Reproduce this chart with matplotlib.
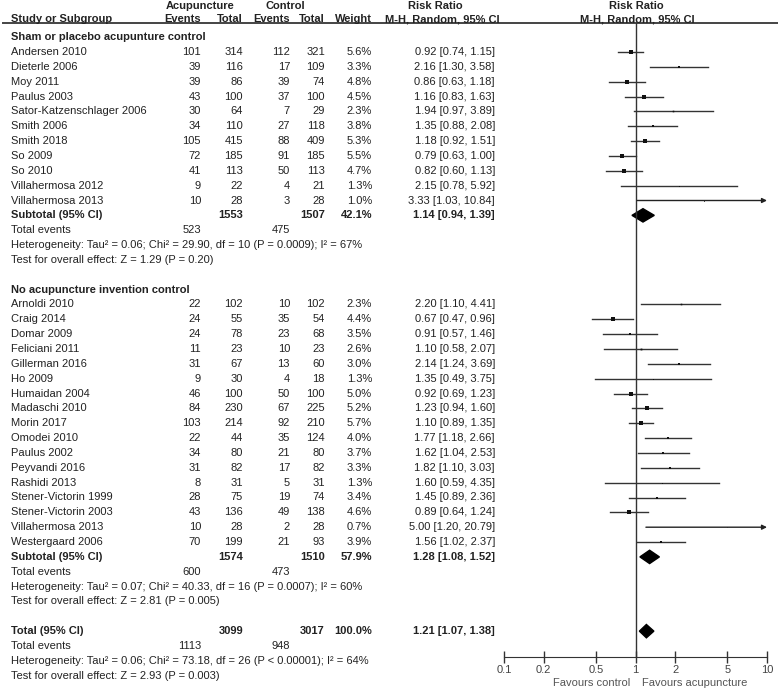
import matplotlib
matplotlib.use("Agg")
import matplotlib.pyplot as plt
from matplotlib.patches import Polygon

plt.rcParams['font.family'] = ['Liberation Sans', 'DejaVu Sans']

# --- data: sham or placebo acupuncture control ---
names1 = ["Andersen 2010", "Dieterle 2006", "Moy 2011", "Paulus 2003", "Sator-Katzenschlager 2006",
          "Smith 2006", "Smith 2018", "So 2009", "So 2010", "Villahermosa 2012", "Villahermosa 2013"]
ae1 = [101, 39, 39, 43, 30, 34, 105, 72, 41, 9, 10]
at1 = [314, 116, 86, 100, 64, 110, 415, 185, 113, 22, 28]
ce1 = [112, 17, 39, 37, 7, 27, 88, 91, 50, 4, 3]
ct1 = [321, 109, 74, 100, 29, 118, 409, 185, 113, 21, 28]
w1 = [5.6, 3.3, 4.8, 4.5, 2.3, 3.8, 5.3, 5.5, 4.7, 1.3, 1.0]
rr1 = [0.92, 2.16, 0.86, 1.16, 1.94, 1.35, 1.18, 0.79, 0.82, 2.15, 3.33]
lo1 = [0.74, 1.30, 0.63, 0.83, 0.97, 0.88, 0.92, 0.63, 0.60, 0.78, 1.03]
hi1 = [1.15, 3.58, 1.18, 1.63, 3.89, 2.08, 1.51, 1.00, 1.13, 5.92, 10.84]

# --- data: no acupuncture control ---
names2 = ["Arnoldi 2010", "Craig 2014", "Domar 2009", "Feliciani 2011", "Gillerman 2016", "Ho 2009",
          "Humaidan 2004", "Madaschi 2010", "Morin 2017", "Omodei 2010", "Paulus 2002", "Peyvandi 2016",
          "Rashidi 2013", "Stener-Victorin 1999", "Stener-Victorin 2003", "Villahermosa 2013",
          "Westergaard 2006"]
ae2 = [22, 24, 24, 11, 31, 9, 46, 84, 103, 22, 34, 31, 8, 28, 43, 10, 70]
at2 = [102, 55, 78, 23, 67, 30, 100, 230, 214, 44, 80, 82, 31, 75, 136, 28, 199]
ce2 = [10, 35, 23, 10, 13, 4, 50, 67, 92, 35, 21, 17, 5, 19, 49, 2, 21]
ct2 = [102, 54, 68, 23, 60, 18, 100, 225, 210, 124, 80, 82, 31, 74, 138, 28, 93]
w2 = [2.3, 4.4, 3.5, 2.6, 3.0, 1.3, 5.0, 5.2, 5.7, 4.0, 3.7, 3.3, 1.3, 3.4, 4.6, 0.7, 3.9]
rr2 = [2.20, 0.67, 0.91, 1.10, 2.14, 1.35, 0.92, 1.23, 1.10, 1.77, 1.62, 1.82, 1.60, 1.45, 0.89, 5.00, 1.56]
lo2 = [1.10, 0.47, 0.57, 0.58, 1.24, 0.49, 0.69, 0.94, 0.89, 1.18, 1.04, 1.10, 0.59, 0.89, 0.64, 1.20, 1.02]
hi2 = [4.41, 0.96, 1.46, 2.07, 3.69, 3.75, 1.23, 1.60, 1.35, 2.66, 2.53, 3.03, 4.35, 2.36, 1.24, 20.79, 2.37]

# subtotals / total: (rr, lo, hi, acup total, ctrl total, weight, acup events, ctrl events)
sub1 = [1.14, 0.94, 1.39, 1553, 1507, "42.1%", 523, 475]
sub2 = [1.28, 1.08, 1.52, 1574, 1510, "57.9%", 600, 473]
tot = [1.21, 1.07, 1.38, 3099, 3017, "100.0%", 1113, 948]
het1 = "Heterogeneity: Tau² = 0.06; Chi² = 29.90, df = 10 (P = 0.0009); I² = 67%"
eff1 = "Test for overall effect: Z = 1.29 (P = 0.20)"
het2 = "Heterogeneity: Tau² = 0.07; Chi² = 40.33, df = 16 (P = 0.0007); I² = 60%"
eff2 = "Test for overall effect: Z = 2.81 (P = 0.005)"
het3 = "Heterogeneity: Tau² = 0.06; Chi² = 73.18, df = 26 (P < 0.00001); I² = 64%"
eff3 = "Test for overall effect: Z = 2.93 (P = 0.003)"
ticks = [0.1, 0.2, 0.5, 1, 2, 5, 10]
tick_labels = ["0.1", "0.2", "0.5", "1", "2", "5", "10"]

W, H = 778, 690
fig = plt.figure(figsize=(W / 100, H / 100), dpi=100)
tx = fig.add_axes([0, 0, 1, 1])
tx.set_xlim(0, W)
tx.set_ylim(H, 0)
tx.axis('off')

TC = '#222222'
FS = 8.0
ROW0, DY = 52, 14.85


def ypix(r):
    return ROW0 + DY * (r - 1)


X_NAME, X_AE, X_AT, X_CE, X_CT, X_W, X_RR = 11, 201, 243, 290, 325, 372, 495


def put(x, r, s, ha='right', bold=False, color=TC):
    tx.text(x, ypix(r), s, ha=ha, va='center', fontsize=FS, color=color,
            fontweight='bold' if bold else 'normal')


# header
hb = dict(fontsize=FS, color=TC, fontweight='bold', va='center')
tx.text(200, 6, "Acupuncture", ha='center', **hb)
tx.text(285, 6, "Control", ha='center', **hb)
tx.text(435, 6, "Risk Ratio", ha='center', **hb)
tx.text(636, 6, "Risk Ratio", ha='center', **hb)
tx.text(X_NAME, 19, "Study or Subgroup", ha='left', **hb)
tx.text(X_AE, 19, "Events", ha='right', **hb)
tx.text(X_AT, 19, "Total", ha='right', **hb)
tx.text(X_CE, 19, "Events", ha='right', **hb)
tx.text(X_CT, 19, "Total", ha='right', **hb)
tx.text(X_W, 19, "Weight", ha='right', **hb)
tx.text(442, 19, "M-H, Random, 95% CI", ha='center', **hb)
tx.text(637, 19, "M-H, Random, 95% CI", ha='center', **hb)
tx.plot([3, 778], [23, 23], color='#444444', lw=1.4)

# forest axes
r_top = (23 - ROW0) / DY + 1
r_bot = (657 - ROW0) / DY + 1
ax = fig.add_axes([504 / W, (H - 657) / H, (767 - 504) / W, (657 - 23) / H])
ax.set_xscale('log')
ax.set_xlim(0.1, 10)
ax.set_ylim(r_bot, r_top)
ax.patch.set_alpha(0)
for s in ['top', 'left', 'right']:
    ax.spines[s].set_visible(False)
ax.spines['bottom'].set_color('#333333')
ax.set_yticks([])
ax.set_xticks(ticks)
ax.set_xticklabels(tick_labels)
ax.minorticks_off()
ax.tick_params(axis='x', direction='inout', length=8, width=1, colors='#333333',
               labelsize=FS, labelcolor='#444444', pad=2)
ax.axvline(1, color='#333333', lw=1)


def study_rows(start, names, ae, at, ce, ct, w, rr, lo, hi):
    for i in range(len(names)):
        r = start + i
        put(X_NAME, r, names[i], ha='left')
        put(X_AE, r, str(ae[i]))
        put(X_AT, r, str(at[i]))
        put(X_CE, r, str(ce[i]))
        put(X_CT, r, str(ct[i]))
        put(X_W, r, "%.1f%%" % w[i])
        put(X_RR, r, "%.2f [%.2f, %.2f]" % (rr[i], lo[i], hi[i]))
        if hi[i] > 10:
            ax.annotate('', xy=(10, r), xytext=(lo[i], r), annotation_clip=False,
                        arrowprops=dict(arrowstyle='-|>', color='#222222', lw=1,
                                        mutation_scale=7, shrinkA=0, shrinkB=0))
        else:
            ax.plot([lo[i], hi[i]], [r, r], color='#333333', lw=1)
        ax.plot(rr[i], r, marker='s', color='#111111', ms=0.5 * w[i], mew=0)


def diamond(r, s):
    ax.add_patch(Polygon([(s[1], r), (s[0], r - 0.45), (s[2], r), (s[0], r + 0.45)],
                         closed=True, color='black'))


def summary(r, label, s, h, e):
    put(X_NAME, r, label, ha='left', bold=True)
    put(X_AT, r, str(s[3]), bold=True)
    put(X_CT, r, str(s[4]), bold=True)
    put(X_W, r, s[5], bold=True)
    put(X_RR, r, "%.2f [%.2f, %.2f]" % (s[0], s[1], s[2]), bold=True)
    diamond(r, s)
    put(X_NAME, r + 1, "Total events", ha='left')
    put(X_AE, r + 1, str(s[6]))
    put(X_CE, r + 1, str(s[7]))
    put(X_NAME, r + 2, h, ha='left')
    put(X_NAME, r + 3, e, ha='left')


put(X_NAME, 0, "Sham or placebo acupunture control", ha='left', bold=True)
study_rows(1, names1, ae1, at1, ce1, ct1, w1, rr1, lo1, hi1)
summary(12, "Subtotal (95% CI)", sub1, het1, eff1)

put(X_NAME, 17, "No acupuncture invention control", ha='left', bold=True)
study_rows(18, names2, ae2, at2, ce2, ct2, w2, rr2, lo2, hi2)
summary(35, "Subtotal (95% CI)", sub2, het2, eff2)

summary(40, "Total (95% CI)", tot, het3, eff3)

tx.text(630, 683, "Favours control", ha='right', va='center', fontsize=FS, color='#555555')
tx.text(642, 683, "Favours acupuncture", ha='left', va='center', fontsize=FS, color='#555555')

fig.savefig("out.png", dpi=100)
